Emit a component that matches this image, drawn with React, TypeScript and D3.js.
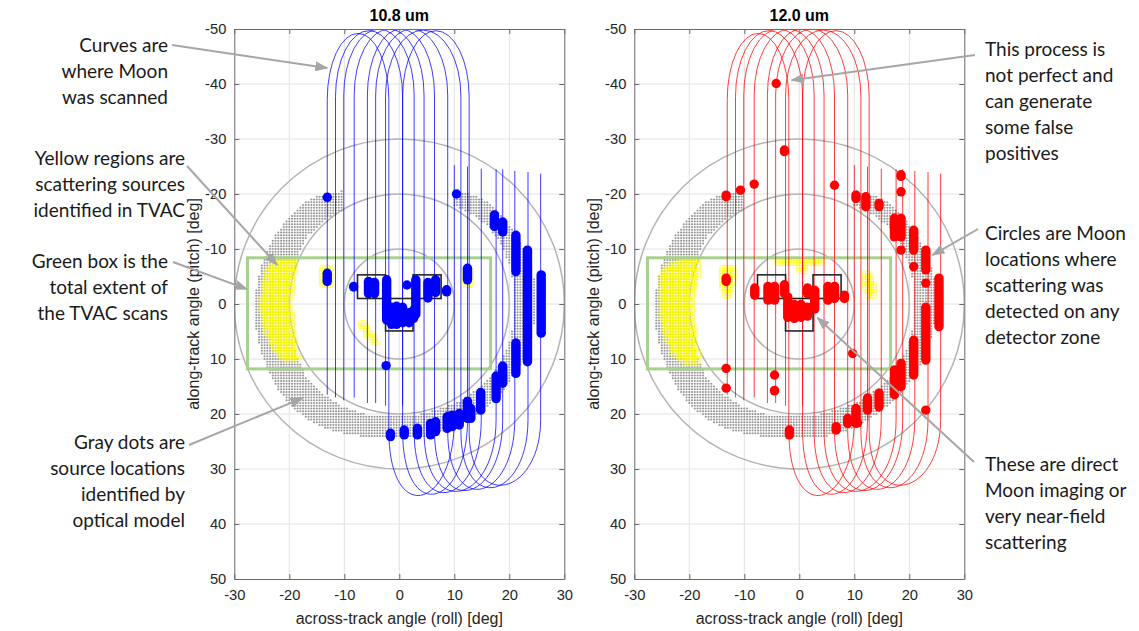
import * as React from 'react';
import * as d3 from 'd3';

// axes
const xDomain = [-30, 30];
const yDomain = [-50, 50];
const xTicks = [-30, -20, -10, 0, 10, 20, 30];
const yTicks = [-50, -40, -30, -20, -10, 0, 10, 20, 30, 40, 50];
const panelTitles = ['10.8 um', '12.0 um'];
const xLabel = 'across-track angle (roll) [deg]';
const yLabel = 'along-track angle (pitch) [deg]';

// field-of-regard rings (deg)
const ringRadii = [10, 20, 30];

// total extent of the TVAC scans [x0, x1, y0, y1]
const tvacBox = [-27.6, 16.6, -8.4, 11.8];

// detector zone outlines [x0, x1, y0, y1]
const zoneBoxes = [
  [-7.6, -2.5, -5.3, -1.0],
  [2.5, 7.6, -5.3, -1.0],
  [-2.5, 2.5, -1.0, 4.9],
];

// Moon scan curves: up leg, top turn, down leg, bottom turn, return leg
const scanUpX = [-13.1, -11.6, -10.1, -8.2, -5.8, -4.3, -2.5, 0.6];
const scanUpEnd = [16.5, 17.0, 17.5, 17.0, 18.0, 18.0, 18.5, 18.5];
const scanTopY = [-49.2, -49.7, -50, -50, -50, -50, -49.8, -49.7];
const scanDownX = [-1.9, 0.6, 2.7, 4.5, 6.4, 8.8, 11.2, 12.7];
const scanBottomY = [34.5, 34.2, 33.8, 33.5, 33.3, 33.0, 32.6, 32.0];
const scanBackX = [10.0, 12.4, 14.9, 17.6, 18.8, 21.0, 23.4, 25.7];
const scanBackEnd = [-25.3, -25.0, -24.6, -24.5, -24.5, -24.2, -24.0, -23.7];

// optical model source locations (gray dots), crescent outline
const crescentOuter = [
  [-10, -20.6], [-13.5, -20.2], [-17, -18.6], [-20, -15.8], [-22.6, -12.5], [-24.4, -9],
  [-25.8, -4.5], [-26.3, 0], [-26, 4.5], [-25.2, 8.5], [-23.8, 12.2], [-22, 15.5],
  [-19.8, 18.5], [-17, 20.8], [-13.5, 22.6], [-9, 23.8], [-4, 24.4], [0, 24.5],
  [4.5, 24.2], [9, 23], [13, 20.8], [16.5, 18.2], [19.5, 15], [22, 11.2], [24, 6.5],
  [25, 1], [24.8, -4], [23.4, -8.5], [21.2, -12.8], [18.5, -16.3], [15.5, -19],
  [12, -20.4], [10, -20.6],
];
const crescentInner = [
  [10, -17.8], [13, -16.4], [16, -14.2], [18.5, -11], [20.2, -6.5], [21, -1.5],
  [20.8, 3.5], [19.5, 8.5], [17.3, 12.2], [14.5, 15.2], [11, 17.6], [7, 19.2],
  [3, 20.2], [-1.5, 20.5], [-6, 20], [-10.5, 18.6], [-14.2, 16.2], [-17, 13],
  [-18.8, 9], [-19.7, 4.5], [-19.9, 0], [-19.5, -4.5], [-18.3, -9], [-16.5, -12.5],
  [-13.5, -15.3], [-10, -17.2],
];

// TVAC scattering sources (yellow circles), regions per band
const yellow108 = [
  [[-22, -8.1], [-18.8, -8.1], [-18.6, -7], [-19.4, -3], [-19.6, 0], [-19.3, 3.5], [-18.8, 7],
   [-18.4, 10.2], [-21, 10.2], [-22.8, 8.2], [-24.3, 5], [-25.1, 1], [-24.9, -3], [-24, -6.2], [-23, -7.5]],
  [[-14.01, -6.6], [-12.4, -6.8], [-12.4, -3], [-14.01, -3]],
  [[-7.1, 3.4], [-6.4, 3.4], [-3.9, 6.8], [-3.9, 7.2], [-4.6, 7.2], [-7.1, 4.2]],
  [[11.9, -6.1], [13.1, -6.1], [13.1, -3.4], [11.9, -3.4]],
];
const yellow120 = [
  [[-21, -8.1], [-18.2, -8.1], [-18.4, -5], [-19, -2], [-19.2, 1], [-19, 4], [-18.6, 7.5],
   [-18.2, 10.9], [-21, 10.9], [-23, 9], [-24.3, 6], [-25.1, 2.5], [-25.1, -3], [-25.1, -5.8], [-23.5, -7]],
  [[-14.01, -6.9], [-11.9, -6.9], [-11.9, -4], [-12.6, -1.2], [-13.6, -1.2], [-14.01, -3]],
  [[-4.01, -8.1], [4.01, -8.1], [4.01, -7.4], [1.2, -7.4], [1.2, -5.8], [-0.3, -5.8], [-0.3, -7.4], [-4.01, -7.4]],
  [[11.7, -5.7], [12.7, -5.9], [13.7, -3.5], [13.7, -1.2], [12.5, -1.2], [11.7, -3.5]],
];

// Moon locations with detected scattering [x, y from, y to]
const hits108 = [
  [-13.1, -19.4, -19.4], [10.4, -20.0, -20.0],
  [17.3, -16.2, -14.1], [18.8, -14.9, -13.1], [21.2, -12.5, -5.9], [23.3, -9.8, 10.5],
  [25.8, -5.3, 5.3], [21.2, 7.1, 12.6], [18.8, 11.3, 14.4], [17.6, 13.1, 17.2],
  [14.8, 16.1, 19.3], [13.0, 19.0, 20.8], [12.4, 17.7, 20.8], [10.9, 19.9, 22.0],
  [9.6, 20.2, 22.3], [8.7, 20.5, 22.6], [6.6, 21.4, 23.2], [5.7, 21.7, 23.8],
  [3.3, 22.6, 23.8], [0.9, 22.9, 23.8], [-1.6, 23.5, 24.1],
  [-13.1, -5.6, -4.1], [-8.3, -3.2, -3.1], [-5.6, -4.1, -1.9], [-4.5, -3.9, -1.9],
  [-2.3, -4.4, 2.9], [-1.4, 0.6, 3.7], [-0.5, 0.4, 3.7], [0.6, 0.6, 3.4],
  [1.4, -3.45, -3.45], [1.8, 1.6, 3.4], [2.6, 1.1, 2.6], [3.0, -4.4, 1.9],
  [5.2, -3.9, -1.1], [6.6, -4.4, -2.1], [8.6, -2.6, -2.2], [12.4, -6.5, -4.4],
  [-2.4, 11.2, 11.2],
];
const hits120 = [
  [-4.2, -40.1, -40.1], [-2.7, -28.0, -27.7], [-13.3, -19.8, -19.5], [-10.7, -20.7, -20.7],
  [-8.2, -21.8, -21.8], [6.4, -21.6, -21.6], [10.3, -19.8, -19.2], [12.1, -19.5, -17.7],
  [14.5, -18.3, -17.7], [18.5, -23.5, -23.2], [18.5, -20.4, -20.4], [17.3, -15.6, -12.2],
  [18.5, -15.6, -12.2], [18.5, -9.8, -9.8], [20.8, -13.4, -9.8], [20.8, -6.8, -6.8],
  [23.0, -9.8, -6.2], [23.0, -3.8, -3.8], [25.4, -4.7, 4.1], [23.0, 0.6, 10.2],
  [20.8, 6.6, 12.9], [18.5, 10.8, 15.0], [17.3, 12.0, 16.5], [14.5, 16.2, 18.7],
  [12.4, 17.1, 19.3], [10.3, 19.0, 21.7], [8.8, 20.8, 21.7], [10.6, 21.6, 21.6],
  [6.7, 22.3, 22.9], [-1.8, 22.9, 23.8], [23.0, 19.3, 19.3], [9.7, 9.0, 9.0],
  [-13.3, 11.7, 11.7], [-13.3, 15.3, 15.3], [-4.5, 12.9, 12.9], [-4.5, 15.7, 15.8],
  [-13.3, -4.7, -4.1], [-8.1, -2.9, -1.6], [-5.7, -3.2, -0.7], [-4.5, -3.2, -0.7],
  [-2.7, -3.5, -1.9], [-2.1, -1.3, 2.4], [-0.9, 0.1, 2.6], [0.3, 0.1, 2.4],
  [1.5, -2.9, -1.9], [1.5, 0.6, 2.2], [2.8, -2.5, 0.9], [5.2, -3.2, -0.7],
  [6.4, -3.2, -1.0], [8.2, -1.6, -1.0],
];

// callouts
const notesLeft = [
  ['Curves are', 'where Moon', 'was scanned'],
  ['Yellow regions are', 'scattering sources', 'identified in TVAC'],
  ['Green box is the', 'total extent of', 'the TVAC scans'],
  ['Gray dots are', 'source locations', 'identified by', 'optical model'],
];
const notesRight = [
  ['This process is', 'not perfect and', 'can generate', 'some false', 'positives'],
  ['Circles are Moon', 'locations where', 'scattering was', 'detected on any', 'detector zone'],
  ['These are direct', 'Moon imaging or', 'very near-field', 'scattering'],
];
// arrow tips in data units of the panel they point into
const pointsLeft = [[-13.1, -42.9], [-22.2, -7.1], [-27.7, -2.7], [-17.6, 17.1]];
const pointsRight = [[-1.4, -40.7], [24.2, -8.9], [3.3, 2.5]];

export default class App extends React.Component {
  constructor(props) {
    super(props);
    this.node = null;
    this.width = 1139;
    this.height = 631;
    this.panelLeft = [234.3, 634.3];
    this.plotW = 330;
    this.plotTop = 29;
    this.plotH = 550;
    this.axisFont = '"Liberation Sans", Arial, Helvetica, sans-serif';
    this.noteFont = 'Lato, "Open Sans", sans-serif';
  }

  gridInside(poly, step) {
    const [x0, x1] = d3.extent(poly, d => d[0]);
    const [y0, y1] = d3.extent(poly, d => d[1]);
    const pts = [];
    for (let i = Math.ceil(x0 / step); i * step <= x1; i++) {
      for (let j = Math.ceil(y0 / step); j * step <= y1; j++) {
        const p = [i * step, j * step];
        if (d3.polygonContains(poly, p)) pts.push(p);
      }
    }
    return pts;
  }

  init() {
    const { width, height } = this;
    const root = d3.select(this.node);
    root.selectAll('*').remove();

    const svg = root.append('svg')
      .attr('width', width)
      .attr('height', height)
      .style('position', 'absolute')
      .style('left', '0px')
      .style('top', '0px')
      .style('background', '#fff');

    const defs = svg.append('defs');
    defs.append('marker')
      .attr('id', 'arrowHead')
      .attr('markerUnits', 'userSpaceOnUse')
      .attr('markerWidth', 13)
      .attr('markerHeight', 10)
      .attr('refX', 12)
      .attr('refY', 5)
      .attr('orient', 'auto')
      .append('path')
      .attr('d', 'M0,0 L13,5 L0,10 Z')
      .attr('fill', '#a6a6a6');

    const scales = [0, 1].map(k => this.drawPanel(svg, defs, k));

    this.drawNotes(svg, scales);
  }

  drawPanel(svg, defs, k) {
    const { plotW, plotTop, plotH, axisFont } = this;
    const left = this.panelLeft[k];
    const color = k === 0 ? '#0000ff' : '#ff0000';
    const hits = k === 0 ? hits108 : hits120;
    const yellow = k === 0 ? yellow108 : yellow120;

    const x = d3.scaleLinear().domain(xDomain).range([left, left + plotW]);
    const y = d3.scaleLinear().domain(yDomain).range([plotTop, plotTop + plotH]);

    const clipId = `plotClip${k}`;
    defs.append('clipPath').attr('id', clipId)
      .append('rect')
      .attr('x', left).attr('y', plotTop)
      .attr('width', plotW).attr('height', plotH);

    const g = svg.append('g').attr('class', `panel${k}`);

    // grid
    const grid = g.append('g').attr('class', 'grid');
    grid.selectAll('.gx').data(xTicks.slice(1, -1)).enter().append('line')
      .attr('x1', d => x(d)).attr('x2', d => x(d))
      .attr('y1', plotTop).attr('y2', plotTop + plotH)
      .attr('stroke', '#e2e2e2').attr('stroke-width', 1);
    grid.selectAll('.gy').data(yTicks.slice(1, -1)).enter().append('line')
      .attr('y1', d => y(d)).attr('y2', d => y(d))
      .attr('x1', left).attr('x2', left + plotW)
      .attr('stroke', '#e2e2e2').attr('stroke-width', 1);

    const body = g.append('g').attr('clip-path', `url(#${clipId})`);

    // rings
    body.selectAll('ellipse.ring').data(ringRadii).enter().append('ellipse')
      .attr('class', 'ring')
      .attr('cx', x(0)).attr('cy', y(0))
      .attr('rx', d => x(d) - x(0)).attr('ry', d => y(d) - y(0))
      .attr('fill', 'none')
      .attr('stroke', '#b4b4b4')
      .attr('stroke-width', 1.5);

    // gray model dots
    const crescent = crescentOuter.concat(crescentInner);
    body.append('g').selectAll('circle')
      .data(this.gridInside(crescent, 0.5))
      .enter().append('circle')
      .attr('cx', d => x(d[0])).attr('cy', d => y(d[1]))
      .attr('r', 1.1)
      .attr('fill', '#9a9a9a');

    // yellow TVAC sources
    const yPts = [].concat(...yellow.map(poly => this.gridInside(poly, 0.5)));
    body.append('g').selectAll('circle')
      .data(yPts)
      .enter().append('circle')
      .attr('cx', d => x(d[0])).attr('cy', d => y(d[1]))
      .attr('r', 3)
      .attr('fill', 'none')
      .attr('stroke', '#ffff00')
      .attr('stroke-width', 0.55);

    // TVAC extent
    body.append('rect')
      .attr('x', x(tvacBox[0])).attr('y', y(tvacBox[2]))
      .attr('width', x(tvacBox[1]) - x(tvacBox[0]))
      .attr('height', y(tvacBox[3]) - y(tvacBox[2]))
      .attr('fill', 'none')
      .attr('stroke', '#a9d18e')
      .attr('stroke-width', 3);

    // scan curves
    const scanPath = i => {
      const a = scanUpX[i], b = scanDownX[i], c = scanBackX[i];
      const shoulder = scanTopY[i] + 12;
      const rx = (x(b) - x(a)) / 2;
      const ry = y(shoulder) - y(scanTopY[i]);
      const bot = scanBottomY[i];
      return `M${x(a)},${y(scanUpEnd[i])} L${x(a)},${y(shoulder)} ` +
        `A${rx},${ry} 0 0 1 ${x(b)},${y(shoulder)} L${x(b)},${y(23)} ` +
        `C${x(b)},${y(bot + 6)} ${x(c)},${y(bot + 3)} ${x(c)},${y(21)} ` +
        `L${x(c)},${y(scanBackEnd[i])}`;
    };
    body.append('g').selectAll('path')
      .data(d3.range(scanUpX.length))
      .enter().append('path')
      .attr('d', scanPath)
      .attr('fill', 'none')
      .attr('stroke', color)
      .attr('stroke-opacity', 0.85)
      .attr('stroke-width', 0.9);

    // detector zones
    body.append('g').selectAll('rect')
      .data(zoneBoxes)
      .enter().append('rect')
      .attr('x', d => x(d[0])).attr('y', d => y(d[2]))
      .attr('width', d => x(d[1]) - x(d[0]))
      .attr('height', d => y(d[3]) - y(d[2]))
      .attr('fill', 'none')
      .attr('stroke', '#262626')
      .attr('stroke-width', 1.6);

    // detections
    body.append('g').selectAll('path')
      .data(hits)
      .enter().append('path')
      .attr('d', d => `M${x(d[0])},${y(d[1])} L${x(d[0])},${y(d[2]) + 0.01}`)
      .attr('stroke', color)
      .attr('stroke-width', 9.4)
      .attr('stroke-linecap', 'round')
      .attr('fill', 'none');

    // axes
    const styleAxis = sel => {
      sel.attr('font-family', axisFont).attr('font-size', 14.7);
      sel.select('.domain').attr('stroke', '#6a6a6a').attr('stroke-width', 1);
      sel.selectAll('.tick line').attr('stroke', '#6a6a6a');
      sel.selectAll('.tick text').attr('fill', '#262626');
    };
    const plain = d => String(d);
    g.append('g').attr('transform', `translate(0,${plotTop + plotH})`)
      .call(d3.axisBottom(x).tickValues(xTicks).tickFormat(plain).tickSize(-5).tickSizeOuter(0).tickPadding(11))
      .call(styleAxis);
    g.append('g').attr('transform', `translate(0,${plotTop})`)
      .call(d3.axisTop(x).tickValues(xTicks).tickSize(-5).tickSizeOuter(0).tickFormat(() => ''))
      .call(styleAxis);
    g.append('g').attr('transform', `translate(${left},0)`)
      .call(d3.axisLeft(y).tickValues(yTicks).tickFormat(plain).tickSize(-5).tickSizeOuter(0).tickPadding(8))
      .call(styleAxis);
    g.append('g').attr('transform', `translate(${left + plotW},0)`)
      .call(d3.axisRight(y).tickValues(yTicks).tickSize(-5).tickSizeOuter(0).tickFormat(() => ''))
      .call(styleAxis);

    // labels
    g.append('text')
      .attr('x', (x.range()[0] + x.range()[1]) / 2)
      .attr('y', 21)
      .attr('text-anchor', 'middle')
      .attr('font-family', axisFont)
      .attr('font-weight', 'bold')
      .attr('font-size', 16)
      .attr('fill', '#000')
      .text(panelTitles[k]);
    g.append('text')
      .attr('x', (x.range()[0] + x.range()[1]) / 2)
      .attr('y', 624)
      .attr('text-anchor', 'middle')
      .attr('font-family', axisFont)
      .attr('font-size', 16)
      .attr('fill', '#262626')
      .text(xLabel);
    g.append('text')
      .attr('transform', `translate(${left - 35},${plotTop + plotH / 2}) rotate(-90)`)
      .attr('text-anchor', 'middle')
      .attr('font-family', axisFont)
      .attr('font-size', 16)
      .attr('fill', '#262626')
      .text(yLabel);

    return { x, y };
  }

  drawNotes(svg, scales) {
    const { noteFont } = this;
    const notes = svg.append('g').attr('class', 'notes');
    const leftX = [168, 185, 168, 185];
    const leftY = [52, 165, 268, 449];
    const leftTail = [[172, 45], [187, 166], [173, 262], [189, 445]];
    const rightY = [56, 240, 471];
    const rightTail = [[975, 55], [978, 229], [974, 462]];
    const gap = 26;

    const writeLines = (lines, x0, y0, anchor) => {
      notes.append('text')
        .attr('font-family', noteFont)
        .attr('font-size', 19)
        .attr('fill', '#1a1a1a')
        .attr('text-anchor', anchor)
        .selectAll('tspan')
        .data(lines)
        .enter().append('tspan')
        .attr('x', x0)
        .attr('y', (d, i) => y0 + i * gap)
        .text(d => d);
    };
    const arrow = (tail, tip) => {
      notes.append('line')
        .attr('x1', tail[0]).attr('y1', tail[1])
        .attr('x2', tip[0]).attr('y2', tip[1])
        .attr('stroke', '#a6a6a6')
        .attr('stroke-width', 2)
        .attr('marker-end', 'url(#arrowHead)');
    };

    notesLeft.forEach((lines, i) => {
      writeLines(lines, leftX[i], leftY[i], 'end');
      const { x, y } = scales[0];
      arrow(leftTail[i], [x(pointsLeft[i][0]), y(pointsLeft[i][1])]);
    });
    notesRight.forEach((lines, i) => {
      writeLines(lines, 985, rightY[i], 'start');
      const { x, y } = scales[1];
      arrow(rightTail[i], [x(pointsRight[i][0]), y(pointsRight[i][1])]);
    });
  }

  componentDidMount() {
    this.init();
  }

  render() {
    return (
      <div className='MoonScatterChart' ref={el => { this.node = el; }} />
    );
  }
}
